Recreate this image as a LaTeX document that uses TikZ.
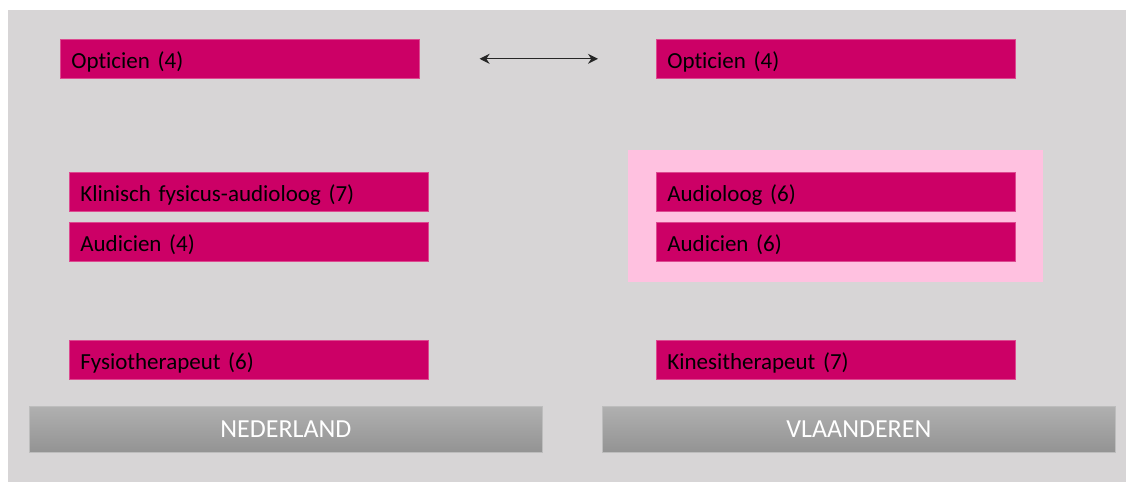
\documentclass[tikz,border=0pt]{standalone}
\usepackage{fontspec}
\setmainfont{Carlito}[Ligatures=NoCommon]
\usetikzlibrary{arrows.meta}
\definecolor{canvas}{HTML}{D7D5D6}
\definecolor{magbox}{HTML}{CC0066}
\definecolor{magedge}{HTML}{DC4A90}
\definecolor{pinkzone}{HTML}{FFC1E0}
\definecolor{bartop}{HTML}{B0B0B0}
\definecolor{barbottom}{HTML}{939393}
\definecolor{baredge}{HTML}{BDBDBD}
\tikzset{
  profbox/.style={draw=magedge, line width=0.6pt, fill=magbox, anchor=north west,
    text width=337pt, inner xsep=11pt, inner ysep=0pt, minimum height=39pt,
    text height=19pt, text depth=0pt,
    align=left, font=\fontsize{23}{26}\selectfont, text=black},
  regionbar/.style={draw=baredge, line width=0.8pt, top color=bartop, bottom color=barbottom,
    anchor=north west, minimum height=46pt, inner sep=0pt,
    font=\fontsize{26}{30}\selectfont, text=white},
  linkarrow/.style={{Stealth[length=10pt,width=10pt]}-{Stealth[length=10pt,width=10pt]},
    draw=black!85, line width=1.3pt}
}
\begin{document}
\begin{tikzpicture}[x=1pt,y=-1pt]
  \useasboundingbox (0,0) rectangle (1126,482);
  % background panel
  \fill[canvas] (8,10) rectangle (1126,482);
  % highlighted group on the Flemish side
  \fill[pinkzone] (628,150) rectangle (1043,282);

  % Dutch professions
  \node[profbox] (optL) at (60,39) {Opticien (4)};
  \node[profbox] (klin) at (69,172) {Klinisch fysicus-audioloog (7)};
  \node[profbox] (audL) at (69,222) {Audicien (4)};
  \node[profbox] (fysio) at (69,340) {Fysiotherapeut (6)};

  % Flemish professions
  \node[profbox] (optR) at (656,39) {Opticien (4)};
  \node[profbox] (audio) at (656,172) {Audioloog (6)};
  \node[profbox] (audR) at (656,222) {Audicien (6)};
  \node[profbox] (kine) at (656,340) {Kinesitherapeut (7)};

  % region labels
  \node[regionbar, minimum width=513pt] (nl) at (29,406) {NEDERLAND};
  \node[regionbar, minimum width=513pt] (vl) at (602,406) {VLAANDEREN};

  % equivalence between the two optician professions
  \draw[linkarrow] ([xshift=60pt]optL.east) -- ([xshift=-58pt]optR.west);
\end{tikzpicture}
\end{document}
